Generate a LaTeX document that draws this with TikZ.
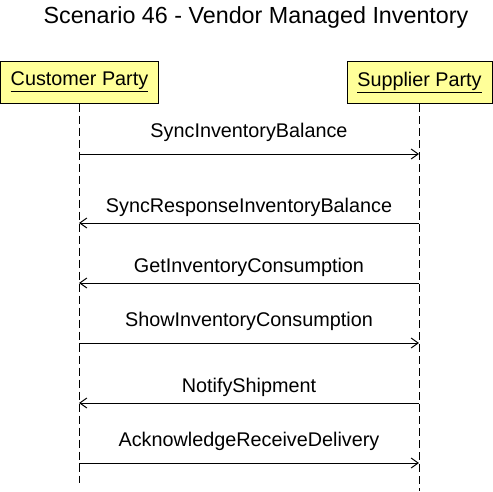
\documentclass[tikz,border=0pt]{standalone}
\usepackage{fontspec}
\setmainfont{Liberation Sans}
\usetikzlibrary{arrows.meta}
\definecolor{partyfill}{HTML}{FFFF99}
\tikzset{
    party/.style={draw=black, fill=partyfill, line width=1pt, minimum height=42pt,
        inner sep=0pt, font=\fontsize{19.8}{22}\selectfont},
    lifeline/.style={draw=black, line width=1pt, dash pattern=on 8pt off 4pt},
    msg/.style={draw=black, line width=1pt, -{Straight Barb[length=7pt,width=10pt]}},
    msglabel/.style={inner sep=0pt, font=\fontsize{19.8}{22}\selectfont}
}
\begin{document}
\begin{tikzpicture}[x=1pt, y=-1pt]
        \useasboundingbox (0,0) rectangle (493,491);
        \pgfmathsetmacro{\custx}{79}
        \pgfmathsetmacro{\suppx}{419}
        \node[inner sep=0pt, font=\fontsize{23.3}{26}\selectfont] (title) at (256,17) {Scenario 46 - Vendor Managed Inventory};
        \node[party, minimum width=158pt] (customer) at (79.5,82) {\underline{Customer Party}};
        \node[party, minimum width=145pt] (supplier) at (419.5,82.5) {\underline{Supplier Party}};
        \coordinate (custend) at (\custx,483);
        \coordinate (suppend) at (\suppx,491);
        \draw[lifeline] (customer.south -| custend) -- (custend);
        \draw[lifeline] (supplier.south -| suppend) -- (suppend);
        % customer to supplier
        \foreach \i/\y/\lbl in {1/154/SyncInventoryBalance, 4/343/ShowInventoryConsumption, 6/463/AcknowledgeReceiveDelivery}{
                \coordinate (c\i) at (\custx,\y);
                \coordinate (s\i) at (\suppx,\y);
                \draw[msg] (c\i) -- (s\i);
                \node[msglabel] (m\i) at (249,\y-22) {\lbl};
            }
        % supplier to customer
        \foreach \i/\y/\lbl in {2/223/SyncResponseInventoryBalance, 3/283/GetInventoryConsumption, 5/403/NotifyShipment}{
                \coordinate (c\i) at (\custx,\y);
                \coordinate (s\i) at (\suppx,\y);
                \draw[msg] (s\i) -- (c\i);
                \node[msglabel] (m\i) at (249,\y-16) {\lbl};
            }
    \end{tikzpicture}
\end{document}
